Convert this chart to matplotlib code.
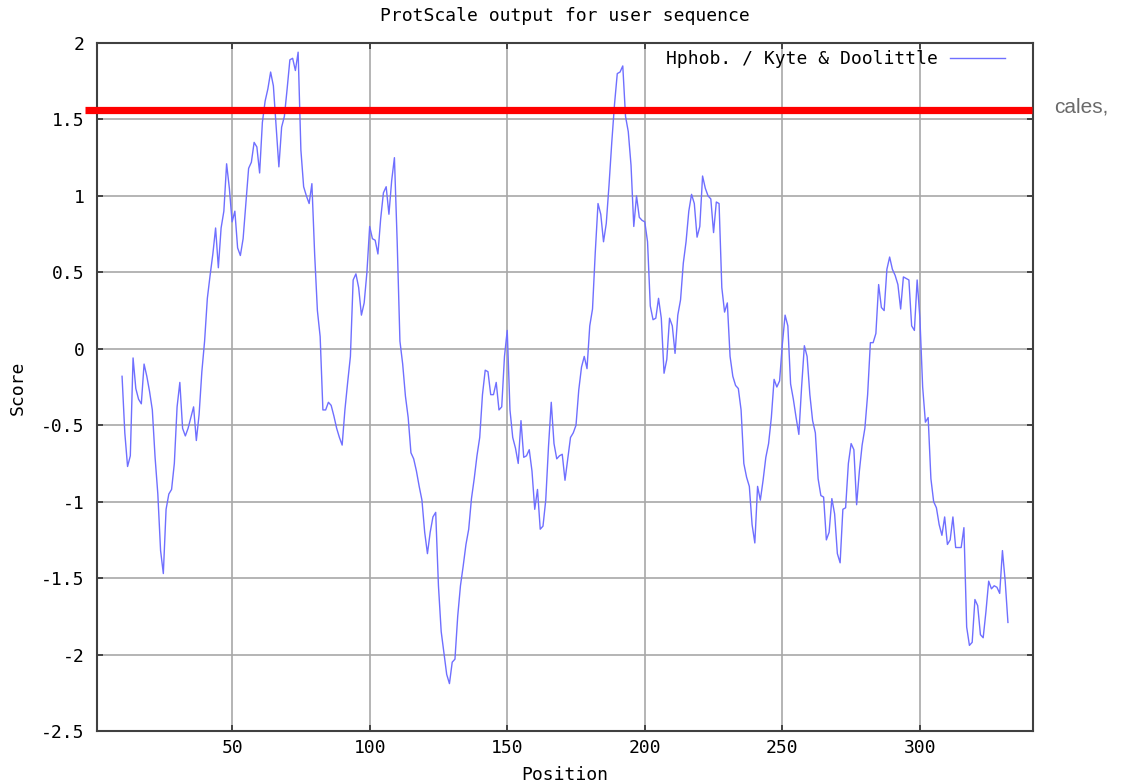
import numpy as np
import matplotlib
matplotlib.use("Agg")
import matplotlib.pyplot as plt
from matplotlib.lines import Line2D

# Kyte & Doolittle hydrophobicity profile (window-averaged), residues 10..332
start_position = 10
scores = [
    -0.18, -0.55, -0.77, -0.70, -0.06, -0.26, -0.33, -0.36, -0.10, -0.18,   # 10-19
    -0.28, -0.40, -0.71, -0.95, -1.32, -1.47, -1.05, -0.95, -0.92, -0.75,   # 20-29
    -0.38, -0.22, -0.52, -0.57, -0.52, -0.45, -0.38, -0.60, -0.43, -0.15,   # 30-39
     0.05,  0.33,  0.48,  0.62,  0.79,  0.53,  0.79,  0.90,  1.21,  1.05,   # 40-49
     0.83,  0.90,  0.66,  0.61,  0.72,  0.95,  1.18,  1.22,  1.35,  1.32,   # 50-59
     1.15,  1.48,  1.62,  1.70,  1.81,  1.72,  1.45,  1.19,  1.45,  1.52,   # 60-69
     1.70,  1.89,  1.90,  1.82,  1.94,  1.30,  1.06,  1.00,  0.95,  1.08,   # 70-79
     0.62,  0.25,  0.08, -0.40, -0.40, -0.35, -0.37, -0.44, -0.52, -0.58,   # 80-89
    -0.63, -0.40, -0.22, -0.05,  0.45,  0.49,  0.40,  0.22,  0.30,  0.50,   # 90-99
     0.80,  0.72,  0.71,  0.62,  0.85,  1.02,  1.06,  0.88,  1.10,  1.25,   # 100-109
     0.70,  0.05, -0.10, -0.31, -0.45, -0.68, -0.72, -0.80, -0.90, -0.99,   # 110-119
    -1.20, -1.34, -1.20, -1.10, -1.07, -1.55, -1.85, -1.99, -2.13, -2.19,   # 120-129
    -2.05, -2.03, -1.75, -1.55, -1.42, -1.28, -1.18, -0.98, -0.85, -0.70,   # 130-139
    -0.58, -0.30, -0.14, -0.15, -0.30, -0.30, -0.22, -0.40, -0.38, -0.05,   # 140-149
     0.12, -0.40, -0.58, -0.65, -0.75, -0.47, -0.71, -0.70, -0.66, -0.80,   # 150-159
    -1.05, -0.92, -1.18, -1.16, -0.99, -0.64, -0.35, -0.62, -0.72, -0.70,   # 160-169
    -0.69, -0.86, -0.72, -0.58, -0.55, -0.50, -0.27, -0.12, -0.05, -0.13,   # 170-179
     0.15,  0.26,  0.63,  0.95,  0.88,  0.70,  0.82,  1.07,  1.35,  1.60,   # 180-189
     1.80,  1.81,  1.85,  1.52,  1.42,  1.20,  0.80,  1.00,  0.86,  0.84,   # 190-199
     0.83,  0.70,  0.28,  0.19,  0.20,  0.33,  0.20, -0.16, -0.07,  0.20,   # 200-209
     0.15, -0.03,  0.22,  0.32,  0.56,  0.70,  0.90,  1.01,  0.95,  0.73,   # 210-219
     0.80,  1.13,  1.05,  1.00,  0.98,  0.76,  0.96,  0.95,  0.40,  0.24,   # 220-229
     0.30, -0.05, -0.18, -0.24, -0.26, -0.40, -0.75, -0.84, -0.90, -1.15,   # 230-239
    -1.27, -0.90, -0.99, -0.86, -0.71, -0.62, -0.45, -0.20, -0.25, -0.21,   # 240-249
     0.03,  0.22,  0.15, -0.23, -0.33, -0.45, -0.56, -0.25,  0.02, -0.05,   # 250-259
    -0.30, -0.47, -0.55, -0.85, -0.96, -0.97, -1.25, -1.20, -0.98, -1.08,   # 260-269
    -1.34, -1.40, -1.05, -1.04, -0.75, -0.62, -0.66, -1.02, -0.80, -0.63,   # 270-279
    -0.52, -0.30,  0.04,  0.04,  0.10,  0.42,  0.27,  0.25,  0.52,  0.60,   # 280-289
     0.52,  0.48,  0.42,  0.26,  0.47,  0.46,  0.45,  0.15,  0.12,  0.45,   # 290-299
     0.20, -0.25, -0.48, -0.45, -0.85, -1.00, -1.04, -1.15, -1.22, -1.10,   # 300-309
    -1.28, -1.25, -1.10, -1.30, -1.30, -1.30, -1.17, -1.82, -1.94, -1.92,   # 310-319
    -1.64, -1.68, -1.87, -1.89, -1.72, -1.52, -1.57, -1.55, -1.56, -1.60,   # 320-329
    -1.32, -1.52, -1.79,                                                    # 330-332
]
positions = np.arange(start_position, start_position + len(scores))

x_ticks = [50, 100, 150, 200, 250, 300]
y_ticks = [-2.5, -2, -1.5, -1, -0.5, 0, 0.5, 1, 1.5, 2]
y_tick_labels = ["-2.5", "-2", "-1.5", "-1", "-0.5", "0", "0.5", "1", "1.5", "2"]

title_text = "ProtScale output for user sequence"
series_label = "Hphob. / Kyte & Doolittle"

W, H = 1128, 783
mono = "DejaVu Sans Mono"
fs = 13

fig = plt.figure(figsize=(W / 100, H / 100), dpi=100)
fig.patch.set_facecolor("white")

ax_left, ax_right, ax_top, ax_bottom = 97.3, 1032.7, 43, 731
ax = fig.add_axes([ax_left / W, 1 - ax_bottom / H,
                   (ax_right - ax_left) / W, (ax_bottom - ax_top) / H])
ax.plot(positions, scores, color="#6f6fff", lw=1.0, label=series_label)

ax.set_xlim(1, 341)
ax.set_ylim(-2.5, 2)
ax.set_xticks(x_ticks)
ax.set_xticklabels([str(t) for t in x_ticks], family=mono, fontsize=fs)
ax.set_yticks(y_ticks)
ax.set_yticklabels(y_tick_labels, family=mono, fontsize=fs)
ax.tick_params(direction="in", length=4, width=1.2, color="#303030",
               top=True, right=True)
ax.tick_params(axis="y", pad=9)
ax.tick_params(axis="x", pad=6)
ax.grid(True, color="#a8a8a8", lw=1.2)
ax.set_axisbelow(True)
for s in ax.spines.values():
    s.set_color("#404040")
    s.set_linewidth(1.5)

ax_h = ax_bottom - ax_top
ax_w = ax_right - ax_left
ax.set_xlabel("Position", family=mono, fontsize=fs)
ax.xaxis.set_label_coords(0.5, (ax_bottom - 775) / ax_h)
ax.xaxis.label.set_va("center")
ax.set_ylabel("Score", family=mono, fontsize=fs)
ax.yaxis.set_label_coords((18 - ax_left) / ax_w, (ax_bottom - 388) / ax_h)
ax.yaxis.label.set_va("center")

fig.text(0.5 * (ax_left + ax_right) / W, 1 - 16 / H, title_text, family=mono,
         fontsize=fs, ha="center", va="center")

leg = ax.legend(loc="upper right", bbox_to_anchor=(1005 / W, 1 - 50 / H),
                bbox_transform=fig.transFigure, frameon=False, markerfirst=False,
                prop={"family": mono, "size": fs}, handlelength=3.05,
                handletextpad=0.65, borderaxespad=0, borderpad=0)

# highlight rule across the plot and a clipped caption fragment at the right edge
fig.add_artist(Line2D([85 / W, 1032 / W], [1 - 110 / H] * 2,
                      transform=fig.transFigure, color="#ff0000", lw=5.2,
                      solid_capstyle="butt"))
fig.text(1054 / W, 1 - 107 / H, "cales,", color="#6a6a6a", fontsize=15,
         family="Liberation Sans", ha="left", va="center")

fig.savefig("out.png", dpi=100, facecolor="white")
